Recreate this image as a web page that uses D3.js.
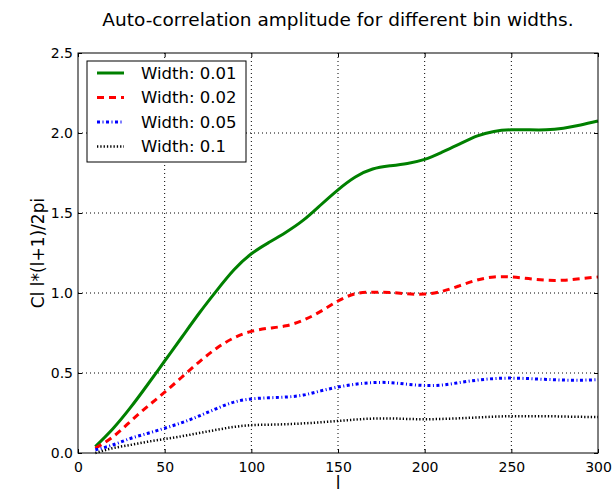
<!DOCTYPE html>
<html>
<head>
<meta charset="utf-8">
<script src="https://cdn.jsdelivr.net/npm/d3@7"></script>
<style>
  body { margin: 0; background: #fff; }
  text { font-family: "DejaVu Sans", sans-serif; }
</style>
</head>
<body>
<svg id="chart" width="614" height="492"></svg>
<script>
// multipole l, sampled every 10
var ells = [10, 20, 30, 40, 50, 60, 70, 80, 90, 100,
            110, 120, 130, 140, 150, 160, 170, 180, 190, 200,
            210, 220, 230, 240, 250, 260, 270, 280, 290, 300];

var width001 = [0.04, 0.15, 0.28, 0.425, 0.575, 0.725, 0.875, 1.015, 1.145, 1.245,
                1.315, 1.38, 1.455, 1.55, 1.645, 1.725, 1.775, 1.795, 1.81, 1.835,
                1.88, 1.93, 1.98, 2.01, 2.02, 2.02, 2.02, 2.03, 2.05, 2.075];
var width002 = [0.03, 0.1, 0.195, 0.29, 0.38, 0.475, 0.57, 0.655, 0.72, 0.76,
                0.78, 0.795, 0.83, 0.885, 0.95, 0.995, 1.005, 1.003, 0.995, 0.993,
                1.01, 1.045, 1.08, 1.10, 1.10, 1.09, 1.08, 1.08, 1.09, 1.10];
var width005 = [0.02, 0.05, 0.09, 0.122, 0.155, 0.19, 0.232, 0.278, 0.318, 0.338,
                0.345, 0.35, 0.362, 0.388, 0.412, 0.43, 0.44, 0.44, 0.43, 0.422,
                0.425, 0.44, 0.455, 0.465, 0.468, 0.465, 0.46, 0.456, 0.455, 0.458];
var width01  = [0.0, 0.03, 0.05, 0.07, 0.087, 0.105, 0.125, 0.145, 0.163, 0.174,
                0.177, 0.18, 0.185, 0.192, 0.2, 0.209, 0.215, 0.216, 0.213, 0.211,
                0.213, 0.217, 0.222, 0.227, 0.23, 0.23, 0.23, 0.228, 0.226, 0.225];

var seriesNames = ["Width: 0.01", "Width: 0.02", "Width: 0.05", "Width: 0.1"];
var xTicks = [0, 50, 100, 150, 200, 250, 300];
var yTicks = [0.0, 0.5, 1.0, 1.5, 2.0, 2.5];

var styles = [
  { color: "#008000", width: 3, dash: null },
  { color: "#ff0000", width: 3, dash: "7,5" },
  { color: "#0000ff", width: 3, dash: "3,2.5,1,2.5" },
  { color: "#000000", width: 2.5, dash: "1.3,2" }
];

var svg = d3.select("#chart");
var margin = { left: 78, right: 16, top: 53, bottom: 39 };
var W = 614 - margin.left - margin.right,
    H = 492 - margin.top - margin.bottom;

var x = d3.scaleLinear().domain([0, 300]).range([0, W]);
var y = d3.scaleLinear().domain([0, 2.5]).range([H, 0]);

var g = svg.append("g").attr("transform", "translate(" + margin.left + "," + margin.top + ")");

// grid
g.append("g").selectAll("line.vg")
  .data(xTicks.slice(1, -1)).enter().append("line")
  .attr("x1", function (d) { return x(d); }).attr("x2", function (d) { return x(d); })
  .attr("y1", 0).attr("y2", H)
  .attr("stroke", "#000").attr("stroke-width", 1).attr("stroke-dasharray", "1,3");
g.append("g").selectAll("line.hg")
  .data(yTicks.slice(1, -1)).enter().append("line")
  .attr("y1", function (d) { return y(d); }).attr("y2", function (d) { return y(d); })
  .attr("x1", 0).attr("x2", W)
  .attr("stroke", "#000").attr("stroke-width", 1).attr("stroke-dasharray", "1,3");

// axes with inward ticks on all sides
function styleAxis(sel) {
  sel.select(".domain").remove();
  sel.selectAll("text").style("font-size", "14px").style("font-family", "DejaVu Sans, sans-serif").attr("fill", "#000");
  sel.selectAll("line").attr("stroke", "#000");
}
g.append("g").attr("transform", "translate(0," + H + ")")
  .call(d3.axisBottom(x).tickValues(xTicks).tickSize(-4).tickPadding(9).tickFormat(d3.format("d")))
  .call(styleAxis);
g.append("g")
  .call(d3.axisLeft(y).tickValues(yTicks).tickSize(-4).tickPadding(5).tickFormat(d3.format(".1f")))
  .call(styleAxis);
g.append("g")
  .call(d3.axisTop(x).tickValues(xTicks).tickSize(-4).tickFormat(""))
  .call(styleAxis);
g.append("g").attr("transform", "translate(" + W + ",0)")
  .call(d3.axisRight(y).tickValues(yTicks).tickSize(-4).tickFormat(""))
  .call(styleAxis);

// curves
var allSeries = [width001, width002, width005, width01];
var line = d3.line()
  .x(function (d, i) { return x(ells[i]); })
  .y(function (d) { return y(d); })
  .curve(d3.curveNatural);

g.selectAll("path.series")
  .data(allSeries).enter().append("path")
  .attr("class", "series")
  .attr("d", line)
  .attr("fill", "none")
  .attr("stroke", function (d, i) { return styles[i].color; })
  .attr("stroke-width", function (d, i) { return styles[i].width; })
  .attr("stroke-dasharray", function (d, i) { return styles[i].dash; });

// frame
g.append("rect").attr("width", W).attr("height", H)
  .attr("fill", "none").attr("stroke", "#000").attr("stroke-width", 1);

// legend
var legend = g.append("g").attr("transform", "translate(9,8)");
legend.append("rect").attr("width", 159).attr("height", 101)
  .attr("fill", "#fff").attr("stroke", "#000").attr("stroke-width", 1);
var rows = legend.selectAll("g.row").data(seriesNames).enter().append("g")
  .attr("transform", function (d, i) { return "translate(0," + (12 + i * 24.5) + ")"; });
rows.append("line")
  .attr("x1", 10).attr("x2", 37).attr("y1", 0).attr("y2", 0)
  .attr("stroke", function (d, i) { return styles[i].color; })
  .attr("stroke-width", function (d, i) { return styles[i].width; })
  .attr("stroke-dasharray", function (d, i) { return styles[i].dash; });
rows.append("text")
  .attr("x", 54).attr("y", 0).attr("dy", "0.35em")
  .style("font-size", "16.5px")
  .text(function (d) { return d; });

// titles
svg.append("text")
  .attr("x", margin.left + W / 2).attr("y", 26)
  .attr("text-anchor", "middle").style("font-size", "18.5px")
  .text("Auto-correlation amplitude for different bin widths.");
svg.append("text")
  .attr("transform", "translate(44," + (margin.top + H / 2) + ") rotate(-90)")
  .attr("text-anchor", "middle").style("font-size", "17px")
  .text("Cl l*(l+1)/2pi");
svg.append("text")
  .attr("x", margin.left + W / 2).attr("y", 489)
  .attr("text-anchor", "middle").style("font-size", "17px")
  .text("l");
</script>
</body>
</html>
